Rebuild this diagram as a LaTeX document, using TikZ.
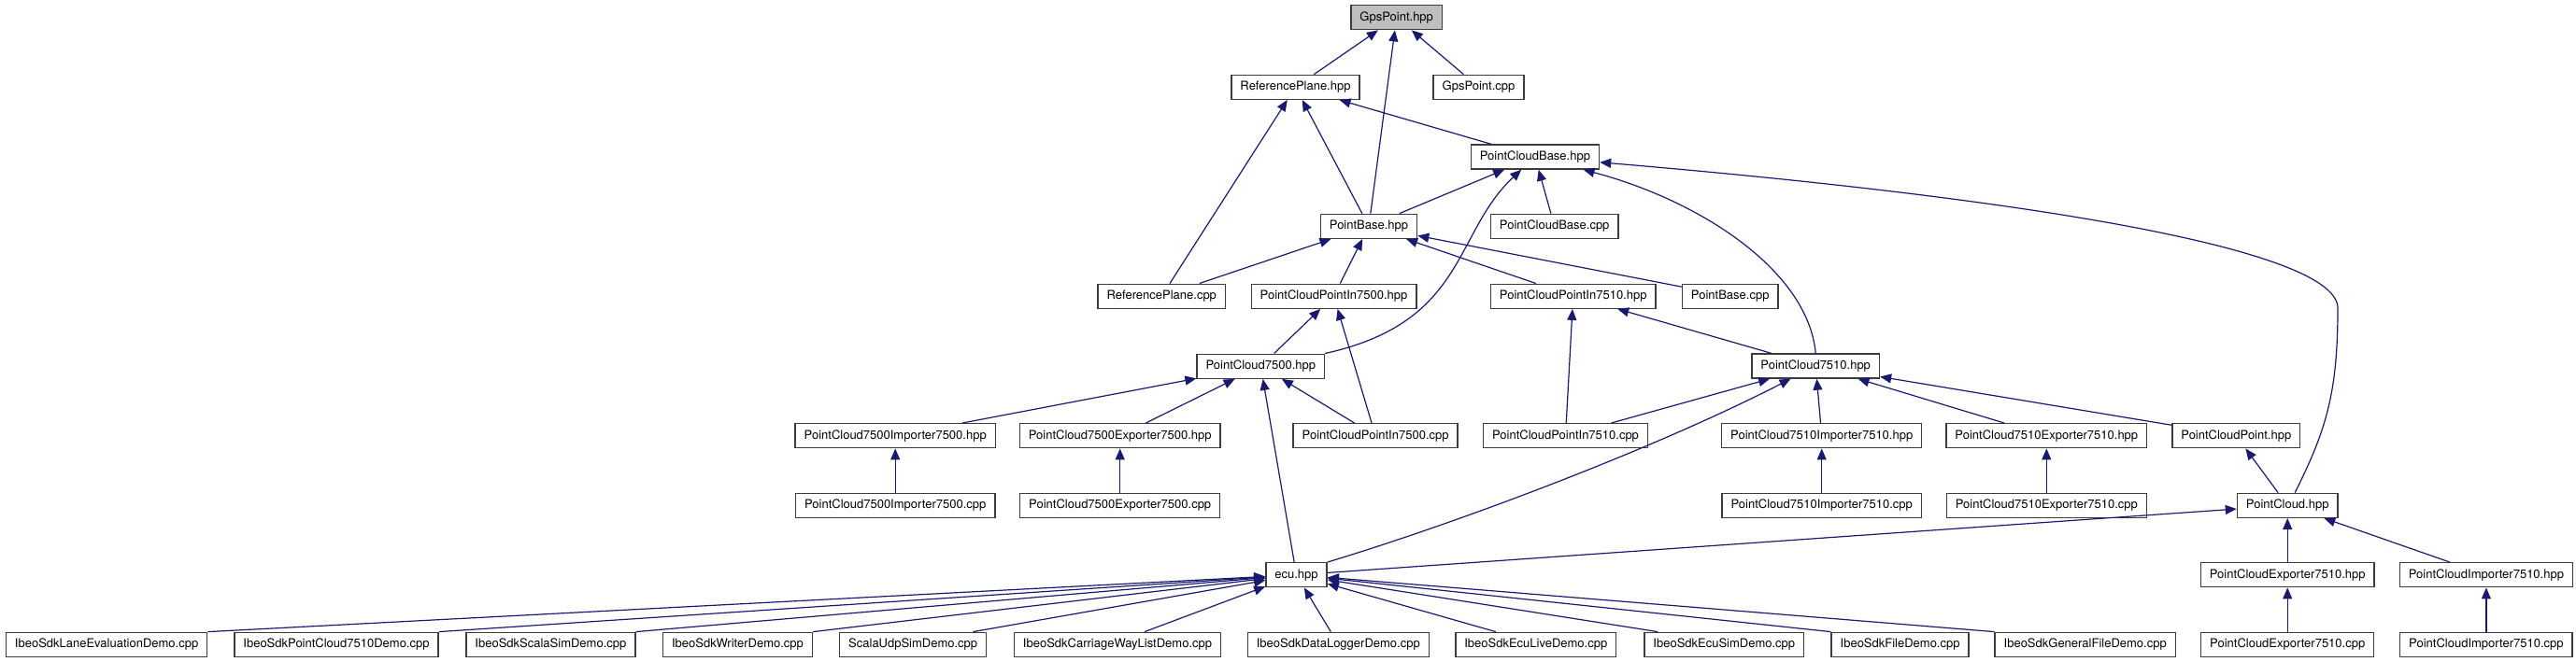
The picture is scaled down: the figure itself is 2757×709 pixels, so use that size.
\documentclass[tikz,border=0pt]{standalone}
\usepackage{fontspec}
\setmainfont{TeX Gyre Heros}
\usepackage{tikz}
\usetikzlibrary{arrows.meta}
\definecolor{edgeblue}{RGB}{25,25,112}
\definecolor{rootgray}{RGB}{191,191,191}
\definecolor{boxline}{RGB}{60,60,60}

\begin{document}
\begin{tikzpicture}[
    x=1pt, y=-1pt,
    >={Triangle[length=12pt, width=10pt]},
    box/.style={draw=boxline, line width=1.4pt, fill=white, minimum height=26pt, inner xsep=9.5pt, inner ysep=0pt, font=\fontsize{13}{15}\selectfont},
    dep/.style={<-, edgeblue, line width=1.2pt},
]
    \useasboundingbox (0,0) rectangle (2757,709);

    % headers and sources, row by row
    \node[box, fill=rootgray] (gpsHpp) at (1494.7,18.7) {GpsPoint.hpp};
    \node[box] (refPlaneHpp) at (1386.5,93.3) {ReferencePlane.hpp};
    \node[box] (gpsCpp) at (1582.5,93.3) {GpsPoint.cpp};
    \node[box] (pcBaseHpp) at (1642.9,168) {PointCloudBase.hpp};
    \node[box] (pointBaseHpp) at (1465,242.3) {PointBase.hpp};
    \node[box] (pcBaseCpp) at (1663.7,242.3) {PointCloudBase.cpp};
    \node[box] (refPlaneCpp) at (1243.3,317.2) {ReferencePlane.cpp};
    \node[box] (pcpIn7500Hpp) at (1427.5,317.2) {PointCloudPointIn7500.hpp};
    \node[box] (pcpIn7510Hpp) at (1683.7,317.2) {PointCloudPointIn7510.hpp};
    \node[box] (pointBaseCpp) at (1851.7,317.2) {PointBase.cpp};
    \node[box] (pc7500Hpp) at (1349.3,392.2) {PointCloud7500.hpp};
    \node[box] (pc7510Hpp) at (1943.2,392) {PointCloud7510.hpp};

    \node[box] (imp7500Hpp) at (958.2,466.7) {PointCloud7500Importer7500.hpp};
    \node[box] (exp7500Hpp) at (1198.7,466.7) {PointCloud7500Exporter7500.hpp};
    \node[box] (pcpIn7500Cpp) at (1472.1,466.7) {PointCloudPointIn7500.cpp};
    \node[box] (pcpIn7510Cpp) at (1675.5,466.7) {PointCloudPointIn7510.cpp};
    \node[box] (imp7510Hpp) at (1949.7,466.7) {PointCloud7510Importer7510.hpp};
    \node[box] (exp7510Hpp) at (2190.3,466.7) {PointCloud7510Exporter7510.hpp};
    \node[box] (pcPointHpp) at (2393.3,466.7) {PointCloudPoint.hpp};

    \node[box] (imp7500Cpp) at (958.2,541.3) {PointCloud7500Importer7500.cpp};
    \node[box] (exp7500Cpp) at (1198.7,541.3) {PointCloud7500Exporter7500.cpp};
    \node[box] (imp7510Cpp) at (1949.7,541.3) {PointCloud7510Importer7510.cpp};
    \node[box] (exp7510Cpp) at (2190.3,541.3) {PointCloud7510Exporter7510.cpp};
    \node[box] (pcHpp) at (2448.2,541.3) {PointCloud.hpp};

    \node[box] (ecuHpp) at (1387.5,615.7) {ecu.hpp};
    \node[box] (pcExpHpp) at (2448.2,615.7) {PointCloudExporter7510.hpp};
    \node[box] (pcImpHpp) at (2660.9,615.7) {PointCloudImporter7510.hpp};

    \node[box] (laneDemo) at (114.1,690.3) {IbeoSdkLaneEvaluationDemo.cpp};
    \node[box] (pc7510Demo) at (360,690.3) {IbeoSdkPointCloud7510Demo.cpp};
    \node[box] (scalaSimDemo) at (589.4,690.3) {IbeoSdkScalaSimDemo.cpp};
    \node[box] (writerDemo) at (789.5,690.3) {IbeoSdkWriterDemo.cpp};
    \node[box] (udpSimDemo) at (977.2,690.3) {ScalaUdpSimDemo.cpp};
    \node[box] (carriageDemo) at (1196,690.3) {IbeoSdkCarriageWayListDemo.cpp};
    \node[box] (loggerDemo) at (1432.3,690.3) {IbeoSdkDataLoggerDemo.cpp};
    \node[box] (ecuLiveDemo) at (1643.8,690.3) {IbeoSdkEcuLiveDemo.cpp};
    \node[box] (ecuSimDemo) at (1845.3,690.3) {IbeoSdkEcuSimDemo.cpp};
    \node[box] (fileDemo) at (2033.6,690.3) {IbeoSdkFileDemo.cpp};
    \node[box] (generalFileDemo) at (2231.7,690.3) {IbeoSdkGeneralFileDemo.cpp};
    \node[box] (pcExpCpp) at (2448.2,690.3) {PointCloudExporter7510.cpp};
    \node[box] (pcImpCpp) at (2660.9,690.3) {PointCloudImporter7510.cpp};

    % include edges, arrow at the included file
    \draw[dep] (gpsHpp) -- (refPlaneHpp);
    \draw[dep] (gpsHpp) -- (pointBaseHpp);
    \draw[dep] (gpsHpp) -- (gpsCpp);
    \draw[dep] (refPlaneHpp) -- (pcBaseHpp);
    \draw[dep] (refPlaneHpp) -- (pointBaseHpp);
    \draw[dep] (refPlaneHpp) -- (refPlaneCpp);
    \draw[dep] (pcBaseHpp) -- (pointBaseHpp);
    \draw[dep] (pcBaseHpp) .. controls (1555,250) and (1570,345) .. (pc7500Hpp.north east);
    \draw[dep] (pcBaseHpp) -- (pcBaseCpp);
    \draw[dep] (pcBaseHpp) .. controls (1820,215) and (1935,290) .. (pc7510Hpp.north);
    \draw[dep] (pcBaseHpp) .. controls (2200,215) and (2502,270) .. (2502,330)
        .. controls (2502,420) and (2490,460) .. ([xshift=8pt]pcHpp.north);
    \draw[dep] (pointBaseHpp) -- (refPlaneCpp);
    \draw[dep] (pointBaseHpp) -- (pcpIn7500Hpp);
    \draw[dep] (pointBaseHpp) -- (pcpIn7510Hpp);
    \draw[dep] (pointBaseHpp) -- (pointBaseCpp);
    \draw[dep] (pcpIn7500Hpp) -- (pc7500Hpp);
    \draw[dep] (pcpIn7500Hpp) -- (pcpIn7500Cpp);
    \draw[dep] (pcpIn7510Hpp) -- (pcpIn7510Cpp);
    \draw[dep] (pcpIn7510Hpp) -- (pc7510Hpp);
    \draw[dep] (pc7500Hpp) -- (imp7500Hpp);
    \draw[dep] (pc7500Hpp) -- (exp7500Hpp);
    \draw[dep] (pc7500Hpp) -- (ecuHpp);
    \draw[dep] (pc7500Hpp) -- (pcpIn7500Cpp);
    \draw[dep] (pc7510Hpp) -- (pcpIn7510Cpp);
    \draw[dep] (pc7510Hpp) .. controls (1770,481) and (1560,560) .. (ecuHpp.north east);
    \draw[dep] (pc7510Hpp) -- (imp7510Hpp);
    \draw[dep] (pc7510Hpp) -- (exp7510Hpp);
    \draw[dep] (pc7510Hpp) -- (pcPointHpp);
    \draw[dep] (imp7500Hpp) -- (imp7500Cpp);
    \draw[dep] (exp7500Hpp) -- (exp7500Cpp);
    \draw[dep] (imp7510Hpp) -- (imp7510Cpp);
    \draw[dep] (exp7510Hpp) -- (exp7510Cpp);
    \draw[dep] (pcPointHpp) -- (pcHpp);
    \draw[dep] (pcHpp) -- (ecuHpp);
    \draw[dep] (pcHpp) -- (pcExpHpp);
    \draw[dep] (pcHpp) -- (pcImpHpp);
    \draw[dep] (pcExpHpp) -- (pcExpCpp);
    \draw[dep] (pcImpHpp) -- (pcImpCpp);

    % demos using ecu.hpp
    \draw[dep] (ecuHpp) -- (laneDemo.north east);
    \draw[dep] (ecuHpp) -- (pc7510Demo.north east);
    \draw[dep] (ecuHpp) -- (scalaSimDemo.north east);
    \draw[dep] (ecuHpp) -- (writerDemo.north east);
    \draw[dep] (ecuHpp) -- ([xshift=-15pt]udpSimDemo.north east);
    \draw[dep] (ecuHpp) -- ([xshift=29pt]carriageDemo.north);
    \draw[dep] (ecuHpp) -- ([xshift=-8pt]loggerDemo.north);
    \draw[dep] (ecuHpp) -- ([xshift=-43pt]ecuLiveDemo.north);
    \draw[dep] (ecuHpp) -- ([xshift=15pt]ecuSimDemo.north west);
    \draw[dep] (ecuHpp) -- (fileDemo.north west);
    \draw[dep] (ecuHpp) -- (generalFileDemo.north west);
\end{tikzpicture}
\end{document}
